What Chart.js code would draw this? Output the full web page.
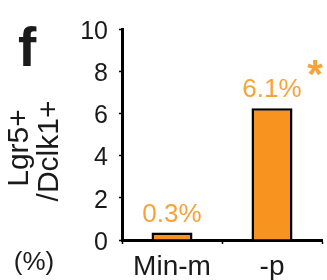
<!DOCTYPE html>
<html>
<head>
<meta charset="utf-8">
<script src="https://cdn.jsdelivr.net/npm/chart.js@4/dist/chart.umd.min.js"></script>
<style>
  html, body { margin: 0; padding: 0; background: #fff; }
  #wrap { width: 327px; height: 280px; }
</style>
</head>
<body>
<div id="wrap"><canvas id="chart"></canvas></div>
<script>
// --- DATA ---
const categories = ['Min-m', '-p'];
const values = [0.35, 6.25];          // % Lgr5+/Dclk1+
const valueLabels = ['0.3%', '6.1%'];
const significance = ['', '*'];
const yTicks = [0, 2, 4, 6, 8, 10];

// --- COLORS ---
const orange = '#F7931E';
const labelOrange = '#F8A23A';
const ink = '#1a1a1a';

// texts and bar labels drawn on top
const annotations = {
    id: 'annotations',
    afterDatasetsDraw(chart) {
        const ctx = chart.ctx;
        const bars = chart.getDatasetMeta(0).data;
        ctx.save();

        // bar value labels + star
        ctx.fillStyle = labelOrange;
        ctx.textAlign = 'center';
        ctx.textBaseline = 'alphabetic';
        bars.forEach((bar, i) => {
            ctx.font = '26px "Liberation Sans", Arial, sans-serif';
            ctx.fillText(valueLabels[i], bar.x, bar.y - 11);
            if (significance[i]) {
                ctx.font = 'bold 40px "Liberation Sans", Arial, sans-serif';
                ctx.fillText(significance[i], bar.x + 43, bar.y - 20);
            }
        });

        // panel letter
        ctx.fillStyle = ink;
        ctx.textAlign = 'left';
        ctx.font = 'bold 55px "Liberation Sans", Arial, sans-serif';
        ctx.fillText('f', 18, 66);

        // y title (two lines, rotated)
        ctx.font = '30px "Liberation Sans", Arial, sans-serif';
        ctx.textAlign = 'center';
        ctx.save();
        ctx.translate(28, 148);
        ctx.rotate(-Math.PI / 2);
        ctx.fillText('Lgr5+', 0, 0);
        ctx.restore();
        ctx.save();
        ctx.translate(58, 151);
        ctx.rotate(-Math.PI / 2);
        ctx.fillText('/Dclk1+', 0, 0);
        ctx.restore();

        // unit
        ctx.font = '26px "Liberation Sans", Arial, sans-serif';
        ctx.fillText('(%)', 34, 270);
        ctx.restore();
    }
};

new Chart(document.getElementById('chart'), {
    type: 'bar',
    data: {
        labels: categories,
        datasets: [{
            data: values,
            backgroundColor: orange,
            borderColor: '#000',
            borderWidth: 2.5,
            categoryPercentage: 1,
            barPercentage: 0.41
        }]
    },
    options: {
        responsive: true,
        maintainAspectRatio: false,
        animation: false,
        layout: { padding: { top: 29, right: 5, left: 0, bottom: 0 } },
        plugins: {
            legend: { display: false },
            tooltip: { enabled: false }
        },
        scales: {
            x: {
                offset: true,
                grid: {
                    offset: true,
                    drawOnChartArea: false,
                    drawTicks: true,
                    tickLength: 4,
                    color: '#000',
                    tickWidth: 1.5
                },
                border: { display: true, color: '#000', width: 3 },
                ticks: {
                    color: ink,
                    padding: 6,
                    font: { family: '"Liberation Sans", Arial, sans-serif', size: 28 }
                },
                afterFit: s => { s.height = 40; }
            },
            y: {
                min: 0,
                max: 10,
                afterBuildTicks: s => { s.ticks = yTicks.map(v => ({ value: v })); },
                grid: {
                    drawOnChartArea: false,
                    drawTicks: true,
                    tickLength: 3,
                    color: '#000',
                    tickWidth: 1.5
                },
                border: { display: true, color: '#000', width: 3 },
                ticks: {
                    color: ink,
                    padding: 11,
                    labelOffset: 3,
                    font: { family: '"Liberation Sans Narrow", "Arial Narrow", "Liberation Sans", sans-serif', size: 25 }
                },
                afterFit: s => { s.width = 122; }
            }
        }
    },
    plugins: [annotations]
});
</script>
</body>
</html>
